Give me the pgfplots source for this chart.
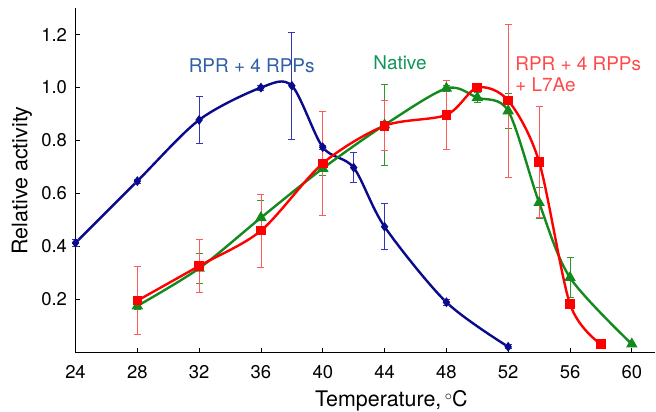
\documentclass[border=0pt]{standalone}
\usepackage{pgfplots}
\pgfplotsset{compat=1.18}
\usepackage{fontspec}
\setmainfont{TeX Gyre Heros}
\definecolor{navy}{HTML}{0A0A8C}
\definecolor{navyerr}{HTML}{3535B5}
\definecolor{bluetext}{HTML}{2F5FA5}
\definecolor{dgreen}{HTML}{138A1E}
\definecolor{greenerr}{HTML}{2A9A2A}
\definecolor{greentext}{HTML}{10955A}
\definecolor{pred}{HTML}{FF0000}
\definecolor{rederr}{HTML}{FF5A5A}
\definecolor{redtext}{HTML}{FF4A4A}
\begin{document}
\begin{tikzpicture}
\path[use as bounding box] (-75.5bp,-59.4bp) rectangle (580.5bp,352.6bp);
\begin{axis}[
  scale only axis, width=579.5bp, height=344.5bp,
  xmin=24, xmax=61.5, ymin=0, ymax=1.3,
  axis lines*=left,
  clip=false,
  xtick={24,28,32,36,40,44,48,52,56,60},
  ytick={0.2,0.4,0.6,0.8,1.0,1.2},
  yticklabel style={/pgf/number format/fixed, /pgf/number format/fixed zerofill, /pgf/number format/precision=1, xshift=-5bp},
  xticklabel style={yshift=-9bp},
  /pgf/number format/assume math mode=true,
  tick align=inside, major tick length=5bp,
  tick style={black, line width=0.8bp},
  axis line style={black, line width=1.2bp},
  tick label style={font=\fontsize{18.5}{20}\selectfont},
  label style={font=\fontsize{21.5}{24}\selectfont},
  xlabel={Temperature,\,\raisebox{0.55ex}{\fontsize{14}{15}\selectfont$\circ$}C},
  ylabel={Relative activity},
  xlabel style={at={(axis description cs:0.545,0)}, anchor=base, yshift=-54bp},
  ylabel style={at={(axis description cs:0,0.5)}, anchor=center, yshift=53.5bp},
]
% RPR + 4 RPPs
\addplot[navy, line width=2.4bp, smooth, mark=diamond*, mark size=3bp, mark options={solid, fill=navy},
  error bars/.cd, y dir=both, y explicit,
  error bar style={navyerr, line width=0.8bp},
  error mark options={rotate=90, navyerr, line width=0.8bp, mark size=3.5bp}]
coordinates {
(24,0.414) +- (0,0.015)
(28,0.647) +- (0,0.008)
(32,0.878) +- (0,0.088)
(36,1.000) +- (0,0.010)
(38,1.007) +- (0,0.203)
(40,0.775) +- (0,0.008)
(42,0.698) +- (0,0.057)
(44,0.475) +- (0,0.087)
(48,0.190) +- (0,0.010)
(52,0.022) +- (0,0.008)
};
% Native
\addplot[dgreen, line width=2.4bp, smooth, mark=triangle*, mark size=4.3bp, mark options={solid, fill=dgreen},
  error bars/.cd, y dir=both, y explicit,
  error bar style={greenerr, line width=0.8bp},
  error mark options={rotate=90, greenerr, line width=0.8bp, mark size=3.5bp}]
coordinates {
(28,0.176) +- (0,0.014)
(32,0.318) +- (0,0.056)
(36,0.509) +- (0,0.064)
(40,0.695) +- (0,0.028)
(44,0.859) +- (0,0.152)
(48,0.997) +- (0,0.012)
(50,0.962) +- (0,0.018)
(52,0.912) +- (0,0.065)
(54,0.566) +- (0,0.058)
(56,0.283) +- (0,0.075)
(60,0.032) +- (0,0.008)
};
% RPR + 4 RPPs + L7Ae
\addplot[pred, line width=2.4bp, smooth, mark=square*, mark size=3.6bp, mark options={solid, fill=pred},
  error bars/.cd, y dir=both, y explicit,
  error bar style={rederr, line width=0.8bp},
  error mark options={rotate=90, rederr, line width=0.8bp, mark size=3.5bp}]
coordinates {
(28,0.196) +- (0,0.129)
(32,0.327) +- (0,0.100)
(36,0.460) +- (0,0.138)
(40,0.714) +- (0,0.195)
(44,0.856) +- (0,0.094)
(48,0.897) +- (0,0.132)
(50,1.000) +- (0,0.010)
(52,0.951) +- (0,0.289)
(54,0.720) +- (0,0.210)
(56,0.183) +- (0,0.015)
(58,0.032) +- (0,0.015)
};
\node[bluetext, font=\fontsize{19}{21}\selectfont] at (axis cs:35.4,1.083) {RPR + 4 RPPs};
\node[greentext, font=\fontsize{19}{21}\selectfont] at (axis cs:45.0,1.092) {Native};
\node[redtext, font=\fontsize{19}{21.7}\selectfont, align=left, anchor=west, inner sep=0pt] at (axis cs:52.45,1.051) {RPR + 4 RPPs\\+ L7Ae};
\end{axis}
\end{tikzpicture}
\end{document}
